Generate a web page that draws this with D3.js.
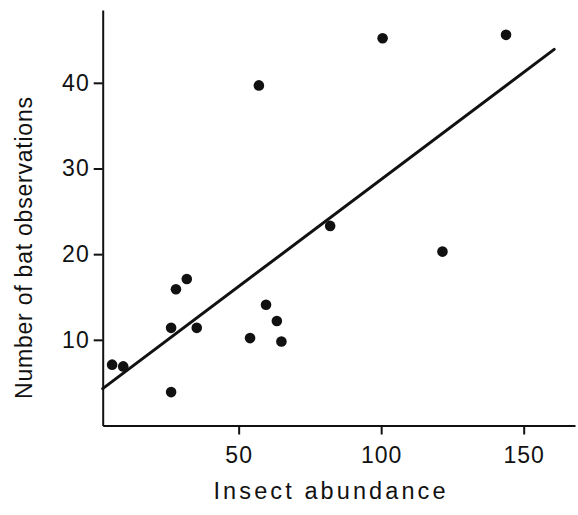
<!DOCTYPE html>
<html lang="en">
<head>
<meta charset="UTF-8">
<title>Bats vs insects</title>
<style>
  body { margin: 0; background: #fff; }
  svg text { font-family: "Liberation Sans", Arial, Helvetica, sans-serif; fill: #111; }
  .axis path, .axis line { stroke: #111; stroke-width: 2px; }
</style>
</head>
<body>
<svg id="chart" width="578" height="515"></svg>

<script src="https://d3js.org/d3.v7.min.js"></script>
<script>
// values
var insect = [5.6, 9.5, 26.3, 26.3, 28.0, 31.8, 35.3, 54.0, 59.6, 63.4, 65.0, 57.1, 82.1, 100.5, 121.5, 143.8];
var bats   = [7.1, 6.9, 3.9, 11.4, 15.9, 17.1, 11.4, 10.2, 14.1, 12.2, 9.8, 39.7, 23.3, 45.2, 20.3, 45.6];

// fitted line, start and end
var fitX = [2.3, 160.7];
var fitY = [4.3, 43.9];

var xTicks = [50, 100, 150];
var yTicks = [10, 20, 30, 40];

var svg = d3.select("#chart"),
    plotLeft = 102.7, plotRight = 575, plotTop = 10, plotBottom = 425.5,
    r = 5.3;

var x = d3.scaleLinear().domain([2.3, 168]).range([plotLeft, plotRight]);
var y = d3.scaleLinear().domain([0, 48.5]).range([plotBottom, plotTop]);

svg.append("g")
    .attr("class", "axis")
    .attr("transform", "translate(0," + plotBottom + ")")
    .call(d3.axisBottom(x).tickValues(xTicks).tickSize(9).tickSizeOuter(0).tickPadding(12));

svg.append("g")
    .attr("class", "axis")
    .attr("transform", "translate(" + plotLeft + ",0)")
    .call(d3.axisLeft(y).tickValues(yTicks).tickSize(9).tickSizeOuter(0).tickPadding(4));

svg.selectAll(".axis text")
    .attr("font-size", 23)
    .style("letter-spacing", "1px")
    .style("font-family", "'Liberation Sans', Arial, sans-serif")
    .style("fill", "#111");

// regression line
var line = d3.line()
    .x(function (d) { return x(d[0]); })
    .y(function (d) { return y(d[1]); });

svg.append("path")
    .datum(d3.zip(fitX, fitY))
    .attr("d", line)
    .attr("fill", "none")
    .attr("stroke", "#111")
    .attr("stroke-width", 3)
    .attr("stroke-linecap", "round");

// points
svg.selectAll(".dot")
    .data(d3.zip(insect, bats))
    .enter().append("circle")
    .attr("class", "dot")
    .attr("cx", function (d) { return x(d[0]); })
    .attr("cy", function (d) { return y(d[1]); })
    .attr("r", r)
    .attr("fill", "#111");

// axis titles
svg.append("text")
    .attr("x", 329.5)
    .attr("y", 499)
    .attr("text-anchor", "middle")
    .attr("font-size", 23.5)
    .attr("textLength", 232)
    .attr("lengthAdjust", "spacing")
    .text("Insect abundance");

svg.append("text")
    .attr("transform", "translate(32,248) rotate(-90)")
    .attr("text-anchor", "middle")
    .attr("font-size", 23)
    .attr("textLength", 302)
    .attr("lengthAdjust", "spacing")
    .text("Number of bat observations");
</script>
</body>
</html>
